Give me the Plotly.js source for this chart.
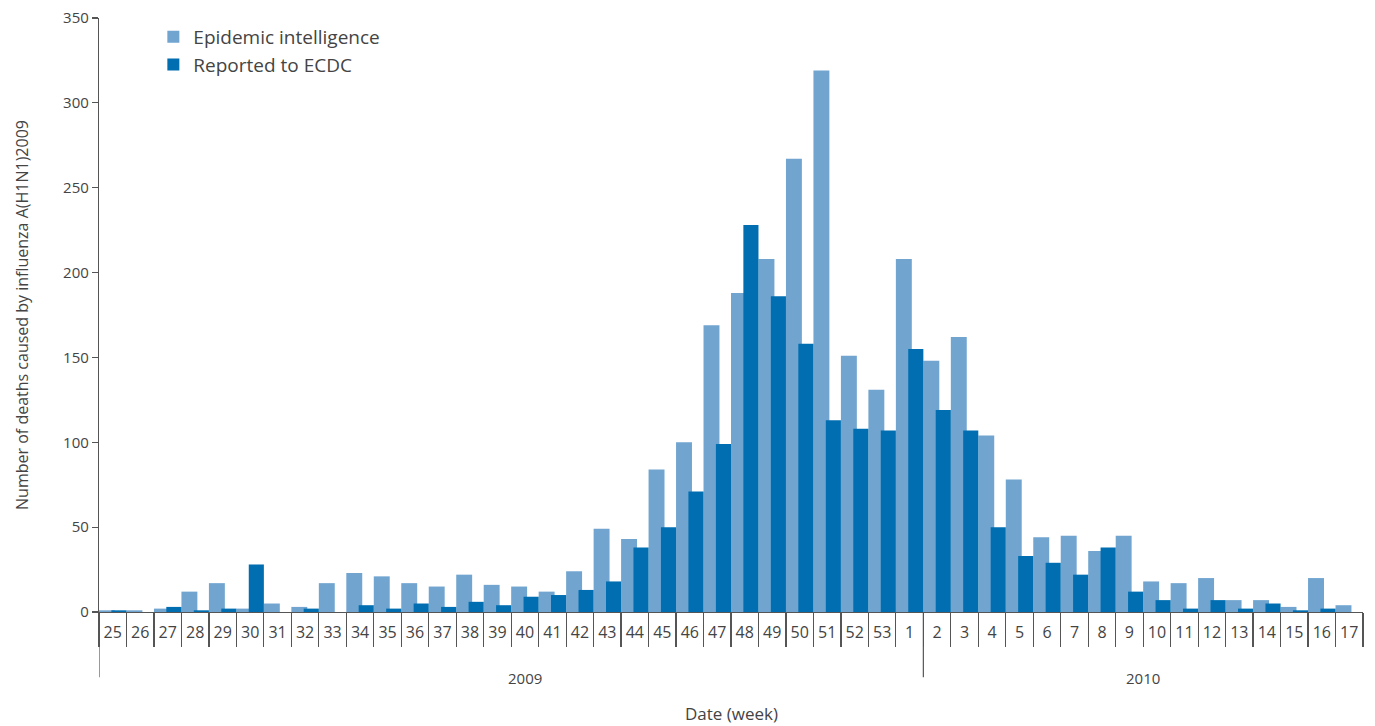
<!DOCTYPE html>
<html>
<head>
<meta charset="utf-8">
<script src="https://cdn.plot.ly/plotly-3.0.1.min.js"></script>
<style>html,body{margin:0;padding:0;background:#fff;}#chart{width:1375px;height:726px;}</style>
</head>
<body>
<div id="chart"></div>
<script>
var weeks = ['25','26','27','28','29','30','31','32','33','34','35','36','37','38','39','40','41','42','43','44','45','46','47','48','49','50','51','52','53',
             '1','2','3','4','5','6','7','8','9','10','11','12','13','14','15','16','17'];
var epidemicIntelligence = [1,1,2,12,17,2,5,3,17,23,21,17,15,22,16,15,12,24,49,43,84,100,169,188,208,267,319,151,131,
                            208,148,162,104,78,44,45,36,45,18,17,20,7,7,3,20,4];
var reportedToECDC = [1,0,3,1,2,28,0,2,0,4,2,5,3,6,4,9,10,13,18,38,50,71,99,228,186,158,113,108,107,
                      155,119,107,50,33,29,22,38,12,7,2,7,2,5,1,2,0];
var yearLabels = ['2009','2010'];
var seriesNames = ['Epidemic intelligence','Reported to ECDC'];

var lightBlue = '#71a5d0';
var darkBlue = '#006eb0';
var txt = '#444444';
var axisCol = '#555555';
var fontFam = 'Open Sans, sans-serif';

var traces = [
  {type:'bar', name:seriesNames[0], x:weeks, y:epidemicIntelligence,
   marker:{color:lightBlue, line:{width:0}}, offset:-0.5, width:0.58, hoverinfo:'x+y'},
  {type:'bar', name:seriesNames[1], x:weeks, y:reportedToECDC,
   marker:{color:darkBlue, line:{width:0}}, offset:-0.05, width:0.55, hoverinfo:'x+y'},
  // carrier for the week-boundary tick axis (draws nothing)
  {type:'scatter', mode:'none', x:weeks, y:reportedToECDC, xaxis:'x2', yaxis:'y',
   showlegend:false, hoverinfo:'skip'}
];

var splitIdx = weeks.indexOf('2') - 0.5;
var firstIdx = -0.5;
var lastIdx = weeks.length - 0.5;

var layout = {
  width:1375, height:726,
  margin:{l:99, r:12, t:18, b:114},
  paper_bgcolor:'#ffffff', plot_bgcolor:'#ffffff',
  font:{family:fontFam, color:txt, size:15},
  barmode:'overlay',
  showlegend:true,
  legend:{x:0.043, y:1.0, xanchor:'left', yanchor:'top', bgcolor:'rgba(0,0,0,0)',
          font:{size:19, color:txt, family:fontFam}},
  xaxis:{type:'category', categoryorder:'array', categoryarray:weeks,
         range:[firstIdx, lastIdx], tickmode:'linear', tick0:0, dtick:1, tickangle:0,
         ticks:'', showline:true, linecolor:axisCol, linewidth:1.2,
         showgrid:false, zeroline:false, ticklabelstandoff:6,
         tickfont:{size:16, color:txt, family:fontFam}},
  xaxis2:{type:'category', categoryorder:'array', categoryarray:weeks, overlaying:'x', anchor:'y', side:'bottom',
          range:[firstIdx, lastIdx], tickmode:'linear', tick0:0, dtick:1,
          tickson:'boundaries', ticks:'outside', ticklen:34, tickcolor:axisCol, tickwidth:1.2,
          showticklabels:false, showline:false, showgrid:false, zeroline:false},
  yaxis:{range:[0,350], dtick:50, ticks:'outside', ticklen:6, tickcolor:axisCol, tickwidth:1.2,
         showline:true, linecolor:axisCol, linewidth:1.2, showgrid:false, zeroline:false,
         tickfont:{size:15, color:txt, family:fontFam},
         title:{text:'Number of deaths caused by influenza A(H1N1)2009', font:{size:16, color:txt, family:fontFam}, standoff:30}},
  shapes:[
    {type:'line', xref:'x', yref:'paper', x0:firstIdx, x1:firstIdx, y0:0, y1:-0.11, line:{color:axisCol, width:1.2}},
    {type:'line', xref:'x', yref:'paper', x0:splitIdx, x1:splitIdx, y0:0, y1:-0.11, line:{color:axisCol, width:1.2}}
  ],
  annotations:[
    {text:yearLabels[0], xref:'x', yref:'paper', x:15, y:-0.111, showarrow:false, yanchor:'middle',
     font:{size:15, color:txt, family:fontFam}},
    {text:yearLabels[1], xref:'x', yref:'paper', x:37.5, y:-0.111, showarrow:false, yanchor:'middle',
     font:{size:15, color:txt, family:fontFam}},
    {text:'Date (week)', xref:'paper', yref:'paper', x:0.5, y:-0.1717, showarrow:false, yanchor:'middle',
     font:{size:17, color:txt, family:fontFam}}
  ]
};

Plotly.newPlot('chart', traces, layout, {displayModeBar:false, staticPlot:true});
</script>
</body>
</html>
